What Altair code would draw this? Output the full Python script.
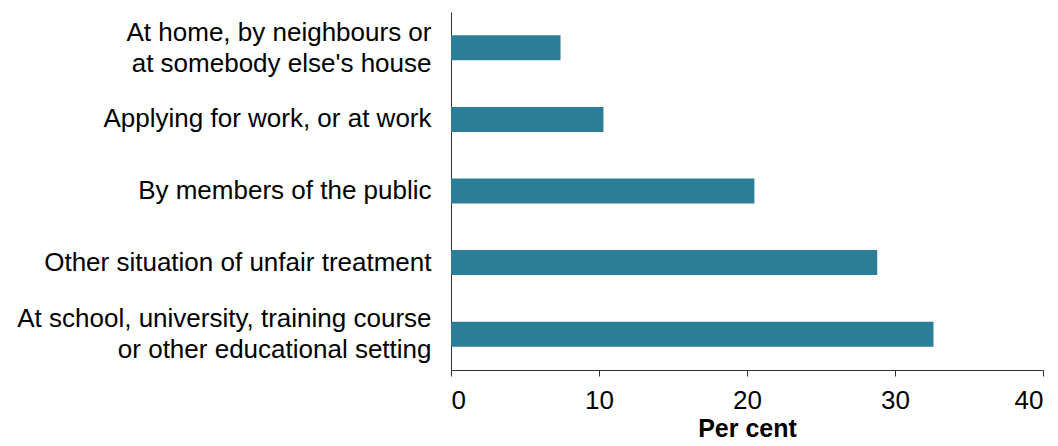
import altair as alt
import pandas as pd

categories = [
    "At home, by neighbours or|at somebody else's house",
    "Applying for work, or at work",
    "By members of the public",
    "Other situation of unfair treatment",
    "At school, university, training course|or other educational setting",
]
values = [7.4, 10.3, 20.5, 28.8, 32.6]
x_ticks = [0, 10, 20, 30, 40]

df = pd.DataFrame({"category": categories, "value": values})

chart = alt.Chart(df).mark_bar(color="#2c7d97", size=25).encode(
    x=alt.X(
        "value:Q",
        scale=alt.Scale(domain=[0, 40], nice=False),
        axis=alt.Axis(
            values=x_ticks,
            title="Per cent",
            grid=False,
            domainColor="#333333",
            tickColor="#333333",
            tickSize=6,
            labelFont="Liberation Sans",
            labelFontSize=26,
            labelColor="#000000",
            labelPadding=11,
            titleFont="Liberation Sans",
            titleFontSize=25,
            titleFontWeight="bold",
            titleColor="#000000",
            titlePadding=3,
        ),
    ),
    y=alt.Y(
        "category:N",
        sort=categories,
        title=None,
        axis=alt.Axis(
            ticks=False,
            grid=False,
            domainColor="#333333",
            labelFont="Liberation Sans",
            labelFontSize=26,
            labelColor="#000000",
            labelPadding=20,
            labelLimit=500,
            labelLineHeight=31,
            labelExpr="split(datum.label, '|')",
            labelOffset=alt.ExprRef(expr="indexof(datum.value, '|') >= 0 ? -15 : 0"),
        ),
    ),
).properties(
    width=592,
    height=358,
    autosize=alt.AutoSizeParams(type="none"),
    padding={"left": 443, "top": 4, "right": 7, "bottom": 90},
    background="#ffffff",
).configure_view(strokeWidth=0)

chart.save("out.html", embed_options={"renderer": "svg", "actions": False})
